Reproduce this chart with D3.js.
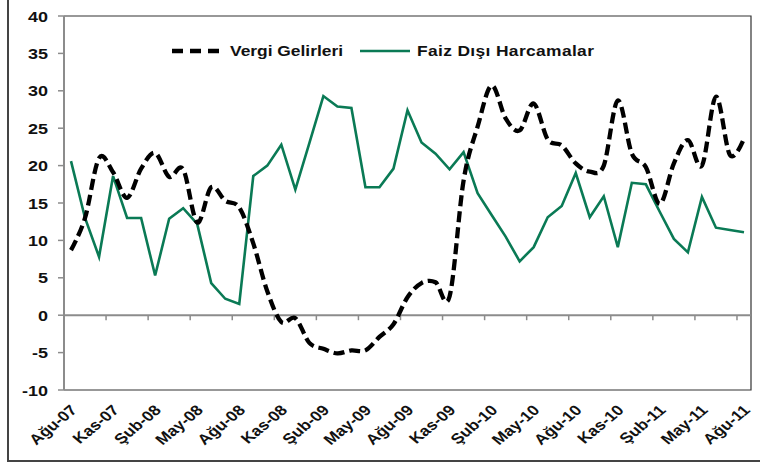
<!DOCTYPE html>
<html>
<head>
<meta charset="utf-8">
<script src="https://cdn.jsdelivr.net/npm/d3@7"></script>
<style>
  html, body { margin: 0; padding: 0; background: #fff; }
  svg { display: block; }
  text { font-family: "Liberation Sans", Arial, sans-serif; font-weight: bold; fill: #111; }
</style>
</head>
<body>
<div id="chart"></div>
<script>
// months (x categories)
var months = [
  "Ağu-07","Eyl-07","Eki-07","Kas-07","Ara-07","Oca-08","Şub-08","Mar-08","Nis-08","May-08","Haz-08","Tem-08",
  "Ağu-08","Eyl-08","Eki-08","Kas-08","Ara-08","Oca-09","Şub-09","Mar-09","Nis-09","May-09","Haz-09","Tem-09",
  "Ağu-09","Eyl-09","Eki-09","Kas-09","Ara-09","Oca-10","Şub-10","Mar-10","Nis-10","May-10","Haz-10","Tem-10",
  "Ağu-10","Eyl-10","Eki-10","Kas-10","Ara-10","Oca-11","Şub-11","Mar-11","Nis-11","May-11","Haz-11","Tem-11",
  "Ağu-11"
];

// Vergi Gelirleri
var vergi = [
  8.7, 13.0, 21.0, 19.1, 15.7, 19.6, 21.7, 18.5, 19.5, 12.4, 17.1, 15.3,
  14.4, 9.6, 3.2, -0.9, -0.4, -3.7, -4.5, -5.1, -4.7, -4.7, -2.9, -1.2,
  2.4, 4.3, 4.4, 2.5, 18.0, 25.2, 30.7, 26.3, 24.7, 28.3, 23.5, 22.7,
  20.3, 19.2, 20.0, 28.7, 21.6, 19.8, 14.9, 20.3, 23.4, 20.0, 29.2, 21.4,
  23.6
];

// Faiz Dışı Harcamalar
var faiz = [
  20.6, 13.0, 7.8, 18.6, 13.0, 13.0, 5.3, 12.9, 14.3, 12.2, 4.3, 2.2,
  1.5, 18.6, 20.0, 22.8, 16.8, 23.0, 29.3, 27.9, 27.7, 17.1, 17.1, 19.6,
  27.4, 23.1, 21.6, 19.5, 21.8, 16.3, 13.4, 10.5, 7.2, 9.1, 13.1, 14.6,
  19.0, 13.1, 15.9, 9.1, 17.7, 17.5, 13.8, 10.2, 8.4, 15.8, 11.7, 11.4,
  11.1
];

var yTicks = [-10, -5, 0, 5, 10, 15, 20, 25, 30, 35, 40];
var xLabels = months.filter(function (d, i) { return i % 3 === 0; });

var W = 760, H = 463;
var stretch = 1.2;   // picture is a bit wider than tall fonts

var svg = d3.select("#chart").append("svg")
  .attr("width", W)
  .attr("height", H);

// outer frame (left + bottom visible)
svg.append("rect")
  .attr("x", 8).attr("y", -5)
  .attr("width", W + 10).attr("height", 466)
  .attr("fill", "none")
  .attr("stroke", "#444")
  .attr("stroke-width", 2);

var x = d3.scaleBand()
  .domain(months)
  .range([64, 751]);

var y = d3.scaleLinear()
  .domain([-10, 40])
  .range([390, 16]);

var cx = function (d) { return x(d) + x.bandwidth() / 2; };

// plot border (top, right, bottom)
svg.append("path")
  .attr("d", "M" + x.range()[0] + "," + y(40) + "H" + x.range()[1] + "V" + y(-10) + "H" + x.range()[0])
  .attr("fill", "none")
  .attr("stroke", "#333")
  .attr("stroke-width", 1.2);

// y axis
svg.append("line")
  .attr("x1", x.range()[0]).attr("x2", x.range()[0])
  .attr("y1", y(40)).attr("y2", y(-10))
  .attr("stroke", "#8c8c8c").attr("stroke-width", 2);

svg.selectAll(".ytick")
  .data(yTicks)
  .enter().append("line")
  .attr("x1", x.range()[0] - 6).attr("x2", x.range()[0])
  .attr("y1", function (d) { return y(d); })
  .attr("y2", function (d) { return y(d); })
  .attr("stroke", "#8c8c8c").attr("stroke-width", 1.5);

svg.selectAll(".ylab")
  .data(yTicks)
  .enter().append("text")
  .attr("transform", function (d) { return "translate(48," + (y(d) + 5.5) + ") scale(" + stretch + ",1)"; })
  .attr("text-anchor", "end")
  .style("font-size", "15px")
  .text(function (d) { return d; });

// zero line with category ticks
svg.append("line")
  .attr("x1", x.range()[0]).attr("x2", x.range()[1])
  .attr("y1", y(0)).attr("y2", y(0))
  .attr("stroke", "#8c8c8c").attr("stroke-width", 2);

svg.selectAll(".xtick")
  .data(months.filter(function (d, i) { return i > 0 && i % 3 === 0; }))
  .enter().append("line")
  .attr("x1", function (d) { return x(d); })
  .attr("x2", function (d) { return x(d); })
  .attr("y1", y(0)).attr("y2", y(0) + 5)
  .attr("stroke", "#8c8c8c").attr("stroke-width", 1.5);

// x labels
svg.selectAll(".xlab")
  .data(xLabels)
  .enter().append("text")
  .attr("transform", function (d) {
    return "translate(" + (cx(d) + 7) + ",411) scale(" + stretch + ",1) rotate(-45)";
  })
  .attr("text-anchor", "end")
  .style("font-size", "14.5px")
  .text(function (d) { return d; });

// lines
var lineFaiz = d3.line()
  .x(function (d, i) { return cx(months[i]); })
  .y(function (d) { return y(d); });

var lineVergi = d3.line()
  .x(function (d, i) { return cx(months[i]); })
  .y(function (d) { return y(d); })
  .curve(d3.curveCardinal.tension(0));

svg.append("path")
  .datum(faiz)
  .attr("d", lineFaiz)
  .attr("fill", "none")
  .attr("stroke", "#0a7a55")
  .attr("stroke-width", 2.6)
  .attr("stroke-linejoin", "miter");

svg.append("path")
  .datum(vergi)
  .attr("d", lineVergi)
  .attr("fill", "none")
  .attr("stroke", "#000")
  .attr("stroke-width", 4.3)
  .attr("stroke-dasharray", "11,5");

// legend
var legY = 51;
svg.append("line")
  .attr("x1", 172).attr("x2", 219)
  .attr("y1", legY).attr("y2", legY)
  .attr("stroke", "#000").attr("stroke-width", 4.3)
  .attr("stroke-dasharray", "11,7");

svg.append("text")
  .attr("transform", "translate(230," + (legY + 5) + ") scale(" + stretch + ",1)")
  .style("font-size", "14.5px")
  .text("Vergi Gelirleri");

svg.append("line")
  .attr("x1", 360).attr("x2", 410)
  .attr("y1", legY).attr("y2", legY)
  .attr("stroke", "#0a7a55").attr("stroke-width", 2.6);

svg.append("text")
  .attr("transform", "translate(417," + (legY + 5) + ") scale(" + stretch + ",1)")
  .style("font-size", "14.5px")
  .style("letter-spacing", "0.3px")
  .text("Faiz Dışı Harcamalar");
</script>
</body>
</html>
